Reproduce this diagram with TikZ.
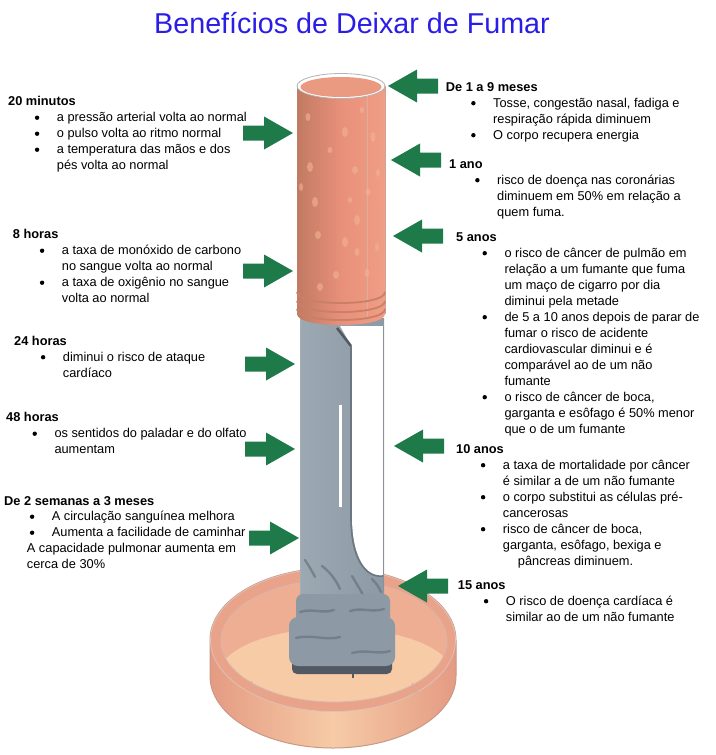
\documentclass[tikz,border=0pt]{standalone}
\usepackage{fontspec}
\setmainfont{Liberation Sans}
\definecolor{arrowgreen}{HTML}{1F7A4A}
\definecolor{titleblue}{HTML}{2A1EE6}
\definecolor{filtermain}{HTML}{E8907A}
\definecolor{filterdark}{HTML}{C27A63}
\definecolor{filterlight}{HTML}{F09E86}
\definecolor{filterridge}{HTML}{C98066}
\definecolor{filterspot}{HTML}{F2B394}
\definecolor{filtertop}{HTML}{E99A80}
\definecolor{bodygray}{HTML}{8D99A4}
\definecolor{bodylight}{HTML}{9CA8B2}
\definecolor{bodydark}{HTML}{6C7782}
\definecolor{bodydarkest}{HTML}{515A63}
\definecolor{traysalmon}{HTML}{E9A38A}
\definecolor{trayedge}{HTML}{C99887}
\definecolor{traypeach}{HTML}{F6CBA6}
\definecolor{trayinner}{HTML}{EDAE93}
\definecolor{traywallside}{HTML}{E49B83}
\newcommand\bul{\makebox[22pt][l]{\raisebox{1.6pt}{\tikz\fill[black] (0,0) circle[radius=2.2pt];}}}
\newcommand\indt{\hspace*{22pt}}
\newcommand\RArr[2]{\fill[arrowgreen] ({#1-50},{#2-7.5}) -- ({#1-29},{#2-7.5}) -- ({#1-29},{#2-16.5}) -- (#1,#2) -- ({#1-29},{#2+16.5}) -- ({#1-29},{#2+7.5}) -- ({#1-50},{#2+7.5}) -- cycle;}
\newcommand\LArr[2]{\fill[arrowgreen] ({#1+50},{#2-7.5}) -- ({#1+29},{#2-7.5}) -- ({#1+29},{#2-16.5}) -- (#1,#2) -- ({#1+29},{#2+16.5}) -- ({#1+29},{#2+7.5}) -- ({#1+50},{#2+7.5}) -- cycle;}
\tikzset{
  hdr/.style={anchor=base west, inner sep=0pt, font=\fontsize{12.8}{16}\selectfont\bfseries},
  bodytxt/.style={anchor=base west, inner sep=0pt, font=\fontsize{12.8}{16}\selectfont},
  spot/.style={fill=filterspot, opacity=0.6},
  crease/.style={draw=bodydark, line width=2.4pt, line cap=round, opacity=0.75}
}
\begin{document}
\begin{tikzpicture}[x=1pt,y=-1pt]
\useasboundingbox (0,0) rectangle (715,755);
\fill[white] (0,0) rectangle (715,755);

% title
\node[anchor=base, inner sep=0pt, text=titleblue, font=\fontsize{28.7}{34}\selectfont] (title) at (352,33) {Benefícios de Deixar de Fumar};

% ---------------- ashtray ----------------
\shade[left color=traywallside, right color=traywallside, middle color=traypeach, draw=trayedge, line width=1pt]
  (210,640) -- (210,676) .. controls (210,716) and (265,748) .. (333,748)
  .. controls (401,748) and (456,716) .. (456,676) -- (456,640)
  .. controls (456,600) and (401,568) .. (333,568)
  .. controls (265,568) and (210,600) .. (210,640) -- cycle;
\fill[traysalmon] (333,640) ellipse [x radius=122.5, y radius=71.5];
\draw[trayedge!60, line width=0.8pt] (333,640) ellipse [x radius=122.5, y radius=71.5];
\fill[trayinner] (334,641) ellipse [x radius=113, y radius=61];
\begin{scope}
  \clip (334,641) ellipse [x radius=113, y radius=61];
  \fill[traypeach] (336,676) ellipse [x radius=118, y radius=48];
\end{scope}
\draw[trayedge!70, line width=0.8pt] (334,641) ellipse [x radius=113, y radius=61];
% notches on the rim
\draw[trayedge!80, line width=0.8pt] (251,681) -- (256,692) -- (270,694);
\draw[trayedge!80, line width=0.8pt] (412,683) -- (418,692) -- (405,695);

% ---------------- cigarette body ----------------
\shade[left color=bodylight, right color=bodygray] (300,318) rectangle (384,600);
\fill[white] (340,326) -- (384,326) -- (384,576) .. controls (368,578) and (352,560) .. (352,517) -- (352,347) -- cycle;
\draw[bodydarkest, line width=2.5pt] (337,328) -- (351,346);
\draw[bodydark, line width=1.6pt] (351,346) -- (351,517) .. controls (351,560) and (366,578) .. (383,576);
\draw[bodydark!80, line width=1pt] (383.5,326) -- (383.5,598);
\draw[bodydark!60, line width=1pt] (300.5,318) -- (300.5,598);
% slit
\fill[white] (339,405) rectangle (342,507);
% creases
\draw[crease] (305,560) .. controls (309,566) and (312,571) .. (315,577);
\draw[crease] (322,566) .. controls (330,572) and (336,580) .. (340,589);
\draw[crease] (352,576) .. controls (356,583) and (360,589) .. (363,595);
\draw[crease] (372,579) .. controls (376,583) and (379,587) .. (381,592);

% crumpled end
\fill[bodydarkest, rounded corners=5pt] (292,640) rectangle (392,674);
\fill[bodygray, rounded corners=9pt] (289,617) rectangle (395,666);
\fill[bodygray, rounded corners=7pt] (296,594) rectangle (390,627);
\draw[crease] (300,612) .. controls (312,608) and (322,614) .. (334,610);
\draw[crease] (350,611) .. controls (362,607) and (372,613) .. (384,609);
\draw[crease] (296,638) .. controls (312,634) and (326,641) .. (340,637);
\draw[crease] (352,653) .. controls (366,649) and (378,655) .. (390,651);
\draw[bodydarkest, line width=1.5pt] (353,672) -- (353,678);

% ---------------- filter ----------------
\shade[left color=filterdark, right color=filterlight, middle color=filtermain]
  (297,86) -- (297,314) .. controls (297,328.7) and (385,328.7) .. (385,314) -- (385,86) -- cycle;
\draw[filterdark!70, line width=0.8pt] (385,86) -- (385,314);
\draw[filterdark!60, line width=0.8pt] (367,95) -- (367,318);
% ridges
\draw[filterridge, line width=1.8pt] (297,292) .. controls (297,306.7) and (385,306.7) .. (385,292);
\draw[filterridge, line width=1.8pt] (297,301) .. controls (297,315.7) and (385,315.7) .. (385,301);
\draw[filterridge, line width=1.8pt] (297,309) .. controls (297,323.7) and (385,323.7) .. (385,309);
% spots
\foreach \sx/\sy/\rx/\ry in {308/117/2.5/4, 345/132/3/5, 373/137/2.5/5, 355/170/3/4, 310/167/3/5,
  301/187/2/4, 315/202/3/5, 357/220/3/5, 368/192/2.5/4, 378/173/2/4, 345/242/3/5, 357/252/2.5/4,
  320/287/3/4, 367/273/2.5/4, 377/247/2/4, 330/150/2.5/3, 318/235/3/4, 362/110/2.5/3, 336/275/3/4, 350/200/2/3}
  \fill[spot] (\sx,\sy) ellipse [x radius=\rx, y radius=\ry];
% top
\fill[white] (341,86) ellipse [x radius=44, y radius=12.5];
\draw[gray!60, line width=0.8pt] (341,86) ellipse [x radius=44, y radius=12.5];
\fill[filtertop] (341,87) ellipse [x radius=40.5, y radius=10];

% ---------------- arrows ----------------
\RArr{293}{133}
\RArr{293}{271}
\RArr{295}{364}
\RArr{295}{449}
\RArr{299}{538}
\LArr{388}{86}
\LArr{391}{160}
\LArr{393}{236}
\LArr{394}{446}
\LArr{398}{586}

% ---------------- left texts ----------------
\node[hdr] (h20) at (8,105) {20 minutos};
\node[bodytxt] (t20) at (34.7,121.5) {\begin{tabular}[t]{@{}l@{}}
\bul a pressão arterial volta ao normal\\
\bul o pulso volta ao ritmo normal\\
\bul a temperatura das mãos e dos\\
\indt pés volta ao normal\end{tabular}};

\node[hdr] (h8) at (12.7,238.5) {8 horas};
\node[bodytxt] (t8) at (39.7,254.5) {\begin{tabular}[t]{@{}l@{}}
\bul a taxa de monóxido de carbono\\
\indt no sangue volta ao normal\\
\bul a taxa de oxigênio no sangue\\
\indt volta ao normal\end{tabular}};

\node[hdr] (h24) at (14,345) {24 horas};
\node[bodytxt] (t24) at (40.7,361) {\begin{tabular}[t]{@{}l@{}}
\bul diminui o risco de ataque\\
\indt cardíaco\end{tabular}};

\node[hdr] (h48) at (6,421.5) {48 horas};
\node[bodytxt] (t48) at (32.3,437.5) {\begin{tabular}[t]{@{}l@{}}
\bul os sentidos do paladar e do olfato\\
\indt aumentam\end{tabular}};

\node[hdr] (h2s) at (4,505) {De 2 semanas a 3 meses};
\node[bodytxt] (t2s) at (29.7,520.5) {\begin{tabular}[t]{@{}l@{}}
\bul A circulação sanguínea melhora\\
\bul Aumenta a facilidade de caminhar\\
\hspace*{-3pt}A capacidade pulmonar aumenta em\\
\hspace*{-3pt}cerca de 30\%\end{tabular}};

% ---------------- right texts ----------------
\node[hdr] (h19) at (445.7,91) {De 1 a 9 meses};
\node[bodytxt] (t19) at (471,107) {\begin{tabular}[t]{@{}l@{}}
\bul Tosse, congestão nasal, fadiga e\\
\indt respiração rápida diminuem\\
\bul O corpo recupera energia\end{tabular}};

\node[hdr] (h1a) at (449,168) {1 ano};
\node[bodytxt] (t1a) at (475,184) {\begin{tabular}[t]{@{}l@{}}
\bul risco de doença nas coronárias\\
\indt diminuem em 50\% em relação a\\
\indt quem fuma.\end{tabular}};

\node[hdr] (h5a) at (456,241) {5 anos};
\node[bodytxt] (t5a) at (482.3,257) {\begin{tabular}[t]{@{}l@{}}
\bul o risco de câncer de pulmão em\\
\indt relação a um fumante que fuma\\
\indt um maço de cigarro por dia\\
\indt diminui pela metade\\
\bul de 5 a 10 anos depois de parar de\\
\indt fumar o risco de acidente\\
\indt cardiovascular diminui e é\\
\indt comparável ao de um não\\
\indt fumante\\
\bul o risco de câncer de boca,\\
\indt garganta e esôfago é 50\% menor\\
\indt que o de um fumante\end{tabular}};

\node[hdr] (h10a) at (456,453) {10 anos};
\node[bodytxt] (t10a) at (480.7,469) {\begin{tabular}[t]{@{}l@{}}
\bul a taxa de mortalidade por câncer\\
\indt é similar a de um não fumante\\
\bul o corpo substitui as células pré-\\
\indt cancerosas\\
\bul risco de câncer de boca,\\
\indt garganta, esôfago, bexiga e\\
\hspace*{37pt}pâncreas diminuem.\end{tabular}};

\node[hdr] (h15a) at (457.7,589) {15 anos};
\node[bodytxt] (t15a) at (483.7,605) {\begin{tabular}[t]{@{}l@{}}
\bul O risco de doença cardíaca é\\
\indt similar ao de um não fumante\end{tabular}};
\end{tikzpicture}
\end{document}
